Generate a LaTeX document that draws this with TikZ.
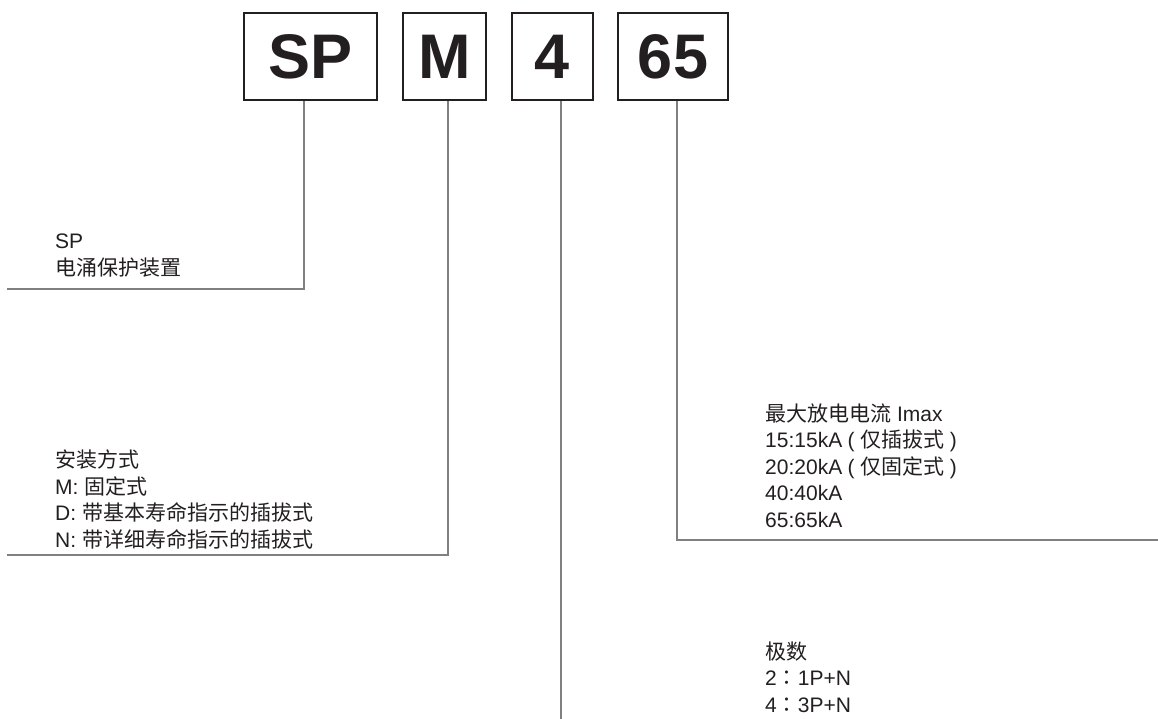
\documentclass[tikz,border=0pt]{standalone}
\usepackage{fontspec}
\setmainfont{Liberation Sans}
\newfontfamily\cjk{Noto Sans CJK SC}
\newfontfamily\cjkpunct{Noto Sans CJK TC}
\newcommand{\pgap}{\hspace{5.5pt}}
\definecolor{inkgray}{RGB}{35,31,32}
\definecolor{leadgray}{RGB}{128,128,128}
\tikzset{
	codebox/.style={draw=inkgray,line width=2.2pt,minimum height=87,inner sep=0,
		font=\fontsize{63}{63}\selectfont\bfseries,text=inkgray},
	leader/.style={draw=leadgray,line width=1.3pt},
	legend/.style={anchor=base west,align=left,inner sep=0,
		font=\fontsize{21}{26.5}\selectfont,text=inkgray}
}
\begin{document}
\begin{tikzpicture}[x=1pt,y=-1pt]
	\useasboundingbox (0,0) rectangle (1158,719);
	% code boxes
	\foreach \nm/\cx/\bw/\txt in {sp/310.5/133/SP,m/444.5/83/M,four/552.5/81/4,sixfive/673/110/65}
		\node[codebox,minimum width=\bw] (\nm) at (\cx,56.5) {\txt};
	% leader lines
	\coordinate (spknee) at (304,289);
	\coordinate (spend) at (7,289);
	\coordinate (mknee) at (448,555);
	\coordinate (mend) at (7,555);
	\coordinate (fourend) at (561,719);
	\coordinate (sixfiveknee) at (677,540);
	\coordinate (sixfiveend) at (1158,540);
	\draw[leader] (sp.south -| spknee) -- (spknee) -- (spend);
	\draw[leader] (m.south -| mknee) -- (mknee) -- (mend);
	\draw[leader] (four.south -| fourend) -- (fourend);
	\draw[leader] (sixfive.south -| sixfiveknee) -- (sixfiveknee) -- (sixfiveend);
	% legends (anchored on their last baseline)
	\node[legend] (splabel) at (55,275) {SP\\{\cjk 电涌保护装置}};
	\node[legend] (mlabel) at (55,547) {{\cjk 安装方式}\\M: {\cjk 固定式}\\D: {\cjk 带基本寿命指示的插拔式}\\N: {\cjk 带详细寿命指示的插拔式}};
	\node[legend] (sixfivelabel) at (765,527) {{\cjk 最大放电电流} Imax\\15:15kA\pgap(\pgap{\cjk 仅插拔式}\pgap)\\20:20kA\pgap(\pgap{\cjk 仅固定式}\pgap)\\40:40kA\\65:65kA};
	\node[legend] (fourlabel) at (765,712) {{\cjk 极数}\\2{\cjkpunct ：}1P+N\\4{\cjkpunct ：}3P+N};
\end{tikzpicture}
\end{document}
